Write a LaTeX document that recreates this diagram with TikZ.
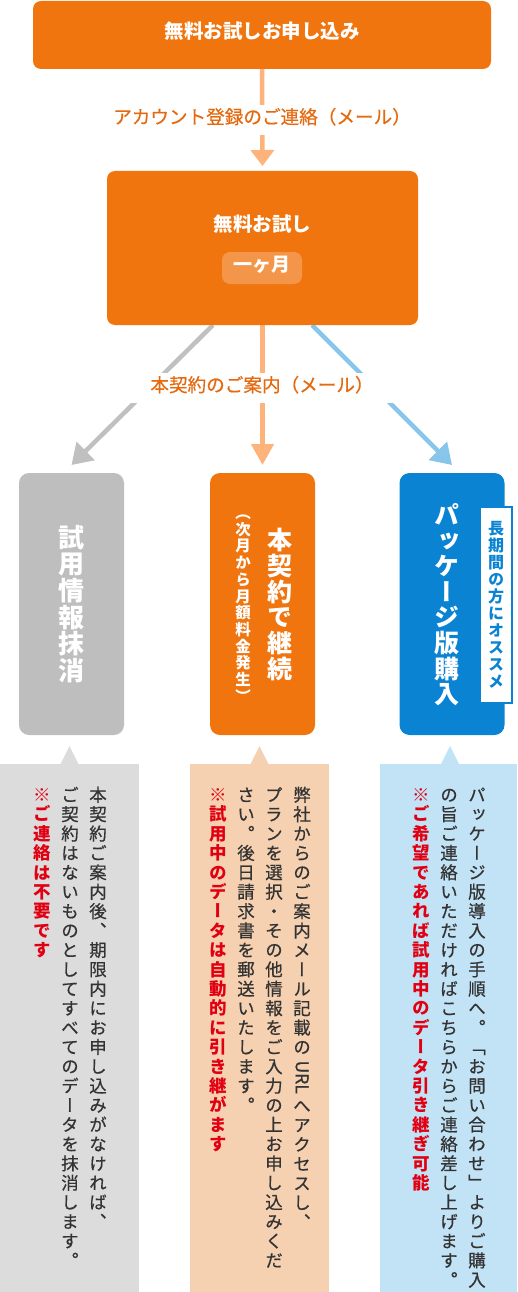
\documentclass[tikz,border=0pt]{standalone}
\usepackage{fontspec}
\usepackage{graphicx}
\usetikzlibrary{arrows.meta}
\newfontfamily\jph{Noto Sans CJK JP}
\newfontfamily\jphm[FakeBold=0.4]{Noto Sans CJK JP}
\newfontfamily\jpv[RawFeature=+vert]{Noto Sans CJK JP}
\newfontfamily\jpvm[RawFeature=+vert,FakeBold=0.5]{Noto Sans CJK JP}
\definecolor{obox}{HTML}{F0750F}
\definecolor{oarr}{HTML}{FDB37A}
\definecolor{olbl}{HTML}{E5690E}
\definecolor{opill}{HTML}{F4964A}
\definecolor{gbox}{HTML}{BEBEBE}
\definecolor{garr}{HTML}{C0C0C0}
\definecolor{bbox}{HTML}{0A84D2}
\definecolor{barr}{HTML}{88C5EB}
\definecolor{gcall}{HTML}{DCDCDC}
\definecolor{ocall}{HTML}{F5D1B1}
\definecolor{bcall}{HTML}{C2E3F6}
\definecolor{redt}{HTML}{E10012}
\definecolor{bodyt}{HTML}{333333}
\newcommand\vcell[1]{\hbox to 1em{\hss\vrule height .88em depth .12em width 0pt\relax#1\hss}}
\ExplSyntaxOn
\NewDocumentCommand\vseg{m}{\tl_map_function:nN{#1}\vcell}
\ExplSyntaxOff
\newcommand\vcol[2]{\vtop{\baselineskip=#1\lineskiplimit=-\maxdimen\lineskip=0pt\relax #2}}
\newlength\urlw
\newcommand\vurl[1]{\settowidth\urlw{#1}\hbox to 1em{\hss\raisebox{\dimexpr.88em-3pt\relax}{\rotatebox{-90}{#1}}\hss}\kern\dimexpr\urlw+6pt-\baselineskip\relax}
\pgfdeclarelayer{bg}
\pgfsetlayers{bg,main}
\begin{document}
\begin{tikzpicture}[x=1pt,y=-1pt,
  every node/.style={inner sep=0pt,outer sep=0pt},
  rbox/.style={rounded corners=8pt,draw=none},
  hbtext/.style={text=white,font=\jph\bfseries\fontsize{19.5pt}{20pt}\selectfont,text height=.88em,text depth=.12em},
  lbl/.style={fill=white,minimum width=265pt,minimum height=30pt,text=olbl,font=\jphm\fontsize{18.6pt}{19pt}\selectfont,text height=.88em,text depth=.12em},
  colbox/.style={rounded corners=10pt,minimum width=105pt,minimum height=262pt},
  bighead/.style={text=white,font=\jpv\bfseries\fontsize{25pt}{26pt}\selectfont},
  callbox/.style={minimum height=528pt,anchor=north west},
  bodycol/.style={anchor=north,text=bodyt,font=\jpvm\fontsize{17.5pt}{19.4pt}\selectfont},
  redcol/.style={anchor=north,text=redt,font=\jpv\bfseries\fontsize{17.5pt}{19.4pt}\selectfont},
  arr/.style={line width=4.5pt}
]
\useasboundingbox (0,0) rectangle (517,1292);
% top box
\node[rbox,fill=obox,minimum width=458pt,minimum height=68pt,hbtext] (top) at (262,35) {無料お試しお申し込み};
% trial box
\node[rbox,fill=obox,minimum width=311pt,minimum height=154pt] (trial) at (262.5,248) {};
\node[hbtext] (trialtxt) at (262.5,228) {無料お試し};
\node[rbox,fill=opill,minimum width=80pt,minimum height=32pt,hbtext,font=\jph\bfseries\fontsize{19pt}{20pt}\selectfont] (pill) at (262,268) {一ヶ月};
% three boxes
\node[colbox,fill=gbox,text=white,font=\jpv\bfseries\fontsize{26pt}{27pt}\selectfont] (del) at (71.5,604) {\vcol{26.7pt}{\vseg{試用情報抹消}}};
\node[colbox,fill=obox] (cont) at (262.5,604) {};
\node[bighead] (conttxt) at (280,604.5) {\vcol{25.7pt}{\vseg{本契約で継続}}};
\node[text=white,font=\jpv\bfseries\fontsize{15.5pt}{16pt}\selectfont] (contsub) at (243,604.5) {\vcol{16.7pt}{\vseg{（次月から月額料金発生）}}};
\node[colbox,fill=bbox] (pkg) at (452,604) {};
\node[bighead] (pkgtxt) at (447,604.5) {\vcol{25.6pt}{\vseg{パッケージ版購入}}};
\node[fill=white,draw=bbox,line width=1.5pt,minimum width=32pt,minimum height=196pt] (tag) at (496,605) {};
\node[text=bbox,font=\jpv\bfseries\fontsize{16pt}{17pt}\selectfont] (tagtxt) at (496,605) {\vcol{17pt}{\vseg{長期間の方にオススメ}}};
% arrows
\begin{pgfonlayer}{bg}
\draw[arr,oarr,-{Triangle[width=23pt,length=16pt]}] (top.south) -- ([yshift=5pt]trial.north);
\draw[arr,oarr,-{Triangle[width=22pt,length=21pt]}] (trial.south) -- ([yshift=8pt]cont.north);
\draw[arr,garr,-{Triangle[width=25pt,length=20pt]}] ([xshift=-49.5pt]trial.south) -- ([yshift=8pt]del.north);
\draw[arr,barr,-{Triangle[width=25pt,length=20pt]}] ([xshift=49.5pt]trial.south) -- ([yshift=8pt]pkg.north);
\end{pgfonlayer}
\node[lbl] (lbl1) at (262,120) {アカウント登録のご連絡（メール）};
\node[lbl] (lbl2) at (262,388) {本契約のご案内（メール）};
% callouts
\node[callbox,fill=gcall,minimum width=139pt] (calG) at (0,764) {};
\fill[gcall] ([xshift=-9pt]calG.north) -- ([yshift=18pt]calG.north) -- ([xshift=9pt]calG.north) -- cycle;
\node[callbox,fill=ocall,minimum width=139pt] (calO) at (190,764) {};
\fill[ocall] ([xshift=-9pt]calO.north) -- ([yshift=18pt]calO.north) -- ([xshift=9pt]calO.north) -- cycle;
\node[callbox,fill=bcall,minimum width=137pt] (calB) at (380,764) {};
\fill[bcall] ([xshift=-7.5pt]calB.north) -- ([xshift=1.5pt,yshift=18pt]calB.north) -- ([xshift=10.5pt]calB.north) -- cycle;
% callout texts
\node[bodycol] (g1) at (98,786) {\vcol{19.4pt}{\vseg{本契約ご案内後、期限内にお申し込みがなければ、}}};
\node[bodycol] (g2) at (70,786) {\vcol{19.4pt}{\vseg{ご契約はないものとしてすべてのデータを抹消します。}}};
\node[redcol] (g3) at (42,786) {\vcol{19.4pt}{\vseg{※ご連絡は不要です}}};
\node[bodycol] (o1) at (302,786) {\vcol{19.4pt}{\vseg{弊社からのご案内メール記載の}\vurl{URL}\vseg{へアクセスし、}}};
\node[bodycol] (o2) at (274,786) {\vcol{19.4pt}{\vseg{プランを選択・その他情報をご入力の上お申し込みくだ}}};
\node[bodycol] (o3) at (246,786) {\vcol{19.4pt}{\vseg{さい。後日請求書を郵送いたします。}}};
\node[redcol] (o4) at (218,786) {\vcol{19.4pt}{\vseg{※試用中のデータは自動的に引き継がます}}};
\node[bodycol] (b1) at (477,786) {\vcol{19.4pt}{\vseg{パッケージ版導入の手順へ。「お問い合わせ」よりご購入}}};
\node[bodycol] (b2) at (449,786) {\vcol{19.4pt}{\vseg{の旨ご連絡いただければこちらからご連絡差し上げます。}}};
\node[redcol] (b3) at (421,786) {\vcol{19.4pt}{\vseg{※ご希望であれば試用中のデータ引き継ぎ可能}}};
\end{tikzpicture}
\end{document}
